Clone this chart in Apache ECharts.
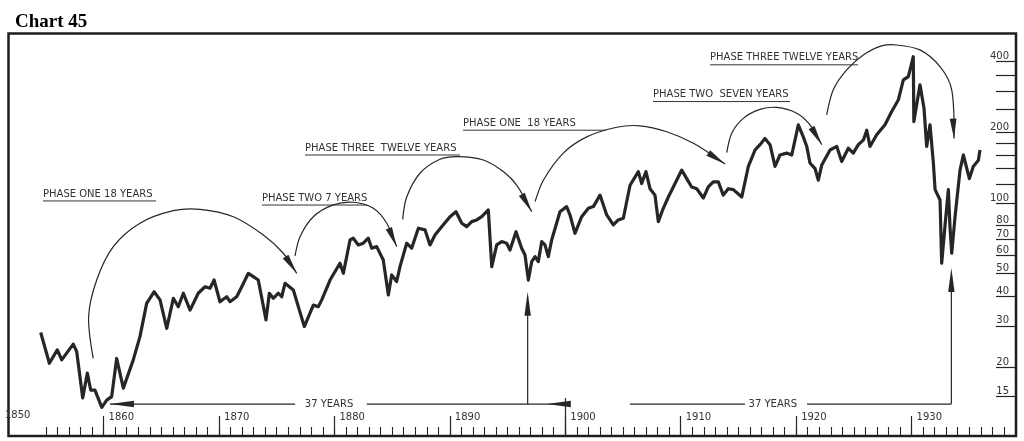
<!DOCTYPE html>
<html><head><meta charset="utf-8">
<script src="https://cdn.jsdelivr.net/npm/echarts@6/dist/echarts.min.js"></script>
<style>html,body{margin:0;padding:0;background:#fff}#c{width:1024px;height:441px}</style>
</head><body><div id="c"></div><script>
// ---- price series (year, index value, log scale) ----
const years = [1854.55,1855.30,1855.99,1856.37,1857.37,1857.67,1858.19,1858.59,1858.88,1859.25,1859.84,1860.27,1860.70,1861.13,1861.71,1862.57,1863.15,1863.73,1864.37,1864.89,1865.47,1866.04,1866.47,1866.91,1867.49,1868.20,1868.79,1869.22,1869.57,1870.08,1870.67,1870.95,1871.53,1871.97,1872.54,1872.97,1873.40,1874.07,1874.36,1874.70,1875.14,1875.43,1875.72,1876.44,1876.96,1877.39,1878.17,1878.60,1878.90,1879.62,1880.48,1880.77,1881.35,1881.63,1882.07,1882.50,1882.93,1883.23,1883.66,1884.23,1884.67,1884.96,1885.39,1885.68,1886.26,1886.69,1887.27,1887.85,1888.28,1888.71,1889.29,1890.01,1890.53,1891.03,1891.46,1891.89,1892.33,1892.76,1893.33,1893.63,1894.06,1894.49,1894.92,1895.21,1895.73,1896.22,1896.51,1896.80,1897.09,1897.38,1897.66,1897.96,1898.24,1898.53,1898.82,1899.54,1900.12,1900.41,1900.84,1901.42,1902.00,1902.43,1903.01,1903.59,1904.16,1904.59,1905.03,1905.61,1906.33,1906.62,1906.99,1907.34,1907.77,1908.06,1908.49,1908.93,1909.36,1910.09,1910.52,1910.95,1911.39,1911.96,1912.39,1912.82,1913.26,1913.69,1914.12,1914.56,1915.29,1915.86,1916.44,1916.87,1917.30,1917.74,1918.17,1918.60,1919.18,1919.62,1920.19,1920.62,1920.92,1921.20,1921.64,1921.92,1922.22,1922.94,1923.52,1923.95,1924.52,1924.95,1925.39,1925.82,1926.12,1926.40,1926.98,1927.70,1928.28,1928.85,1929.29,1929.72,1929.87,1930.15,1930.20,1930.73,1931.08,1931.31,1931.60,1931.89,1932.04,1932.47,1932.61,1932.92,1933.19,1933.33,1933.48,1933.77,1934.20,1934.49,1935.01,1935.35,1935.79,1935.93];
const prices = [28.1,20.8,23.7,21.5,25.1,23.3,14.8,18.9,16.0,16.0,13.5,14.5,15.0,21.8,16.3,21.5,27.0,37.4,41.9,38.7,29.3,39.3,36.2,41.3,35.0,41.3,44.0,43.4,47.0,38.0,39.9,38.0,39.9,44.0,50.2,48.6,47.0,31.8,41.3,39.3,41.3,39.9,45.5,42.6,35.0,29.8,36.8,36.2,38.7,47.0,55.4,50.2,69.6,70.8,66.3,67.4,70.8,64.2,65.2,57.2,40.6,49.4,46.3,53.6,67.4,64.2,78.1,76.8,66.3,73.1,79.3,87.4,91.8,82.0,79.3,83.3,84.7,87.4,93.4,53.6,66.3,68.5,67.4,63.1,75.5,64.2,60.1,47.0,56.3,59.1,56.3,68.5,66.3,59.1,69.6,91.8,96.5,88.9,74.3,87.4,94.9,96.5,108,88.9,80.6,84.7,86.1,119,136,121,136,115,108,83.3,94.9,106,117,138,127,117,115,105,117,123,123,108,115,114,106,143,168,177,188,177,143,160,163,160,215,191,174,148,140,125,145,168,174,150,171,163,177,185,204,174,195,215,245,274,334,345,368,419,222,318,253,174,215,148,114,103,55.4,82.0,114,79.3,61.1,87.4,138,160,127,143,152,168];

// ---- axis ticks / labels ----
const priceTicks = [15,20,30,40,50,60,70,80,100,120,140,160,180,200,250,300,350,400];
const priceLabels = [15,20,30,40,50,60,70,80,100,200,400];
const decadeTicks = [1860,1870,1880,1890,1900,1910,1920,1930];
const firstYearTick = 1855, lastYearTick = 1938;
const edgeYearLabel = '1850';

// ---- annotations (data coordinates: [year, value]) ----
const phaseTitles = ['PHASE ONE 18 YEARS','PHASE TWO 7 YEARS','PHASE THREE  TWELVE YEARS','PHASE ONE  18 YEARS','PHASE TWO  SEVEN YEARS','PHASE THREE TWELVE YEARS'];
const phaseTitleAnchors = [[1854.75,102,1864.54],[1873.72,98.0,1882.82],[1877.45,160,1890.88],[1891.14,204,1903.53],[1907.60,270,1919.47],[1912.54,387,1925.36]];
const phaseArcs = [
  [[1859.1,21.8],[1858.7,32.8],[1859.4,47.0],[1860.84,65.2],[1863.15,82.0],[1866.04,92.7],[1868.35,94.0],[1871.24,87.4],[1873.84,73.1],[1875.57,61.1],[1876.73,50.2]],
  [[1876.58,59.5],[1877.02,71.9],[1878.17,87.4],[1879.90,98.1],[1881.63,100.7],[1883.37,94.9],[1884.53,82.0],[1885.39,65.2]],
  [[1885.91,85.2],[1886.26,106],[1887.41,133.8],[1889.15,153.5],[1890.71,157.4],[1892.90,152.4],[1894.63,136],[1895.79,119],[1897.09,91.8]],
  [[1897.38,101.3],[1898.10,125],[1899.83,163],[1901.86,191],[1904.46,210],[1906.48,213],[1908.79,201],[1911.10,179.5],[1913.84,146.6]],
  [[1913.99,163.7],[1914.42,198],[1915.42,229],[1916.87,250],[1918.32,255],[1920.05,241],[1921.20,215],[1922.22,177]],
  [[1922.65,237],[1923.22,303],[1924.38,368],[1925.82,426],[1927.41,466],[1928.71,470],[1930.73,448],[1932.47,380],[1933.48,303],[1933.68,188]]
];
const cycleText = '37 YEARS';
const cycleBaseValue = 13.95;
const cycleSegments = [[1860.55,1876.6],[1882.8,1899.54],[1905.6,1915.57],[1920.95,1933.45]];
const cycleTextYears = [1879.53,1917.98];
const cycleLeftArrowYears = [1860.55,1898.4];
const cycleUpArrows = [[1896.74,41.9],[1933.45,52.9]];

const ink = '#262626';
const font = '"DejaVu Sans", sans-serif';

const yearTicks = [];
for (let y = firstYearTick; y <= lastYearTick; y++) yearTicks.push(y);

function renderAnnotations(params, api) {
  const children = [];
  const P = (x, v) => api.coord([x, v]);
  function head(tip, from, len, half) {
    const dx = tip[0]-from[0], dy = tip[1]-from[1];
    const d = Math.hypot(dx, dy) || 1;
    const ux = dx/d, uy = dy/d;
    const bx = tip[0]-ux*len, by = tip[1]-uy*len;
    return {type:'polygon', shape:{points:[tip,[bx-uy*half,by+ux*half],[bx+uy*half,by-ux*half]]}, style:{fill:ink}};
  }
  phaseArcs.forEach(arc => {
    const pts = arc.map(p => P(p[0], p[1]));
    children.push({type:'polyline', shape:{points:pts, smooth:0.3}, style:{stroke:ink, lineWidth:1.2, fill:null}});
    children.push(head(pts[pts.length-1], pts[pts.length-2], 20, 3.4));
  });
  phaseTitles.forEach((t, i) => {
    const a = phaseTitleAnchors[i];
    const p0 = P(a[0], a[1]), p1 = P(a[2], a[1]);
    children.push({type:'text', x:p0[0], y:p0[1]-2, style:{text:t, fill:'#333', font:'10px ' + font, align:'left', verticalAlign:'bottom'}});
    children.push({type:'line', shape:{x1:p0[0], y1:p0[1], x2:p1[0], y2:p1[1]}, style:{stroke:'#333', lineWidth:1}});
  });
  cycleSegments.forEach(s => {
    const p0 = P(s[0], cycleBaseValue), p1 = P(s[1], cycleBaseValue);
    children.push({type:'line', shape:{x1:p0[0], y1:p0[1], x2:p1[0], y2:p1[1]}, style:{stroke:ink, lineWidth:1.2}});
  });
  cycleTextYears.forEach(x => {
    const p = P(x, cycleBaseValue);
    children.push({type:'text', x:p[0], y:p[1], style:{text:cycleText, fill:'#333', font:'10px ' + font, align:'center', verticalAlign:'middle'}});
  });
  cycleLeftArrowYears.forEach(x => {
    const p = P(x, cycleBaseValue);
    children.push(head(p, [p[0]+10, p[1]], 24, 3.2));
  });
  cycleUpArrows.forEach(a => {
    const b = P(a[0], cycleBaseValue), t = P(a[0], a[1]);
    children.push({type:'line', shape:{x1:b[0], y1:b[1], x2:t[0], y2:t[1]+10}, style:{stroke:ink, lineWidth:1.2}});
    children.push(head(t, [t[0], t[1]+10], 24, 3.2));
  });
  return {type:'group', children};
}

const chart = echarts.init(document.getElementById('c'), null, {renderer:'canvas'});
const xMin = 1851.76, xMax = 1939.05;
const baseX = {type:'value', min:xMin, max:xMax, position:'bottom', axisLine:{show:false}, splitLine:{show:false}};
chart.setOption({
  animation:false,
  backgroundColor:'#fff',
  title:{text:'Chart 45', left:10, top:8, textStyle:{fontFamily:'"Liberation Serif", "Times New Roman", serif', fontWeight:'bold', fontSize:19, color:'#000'}},
  grid:{left:8.5, right:8, top:33.5, bottom:5, show:true, borderColor:'#1e1e1e', borderWidth:2.5, backgroundColor:'transparent', outerBoundsMode:'none'},
  xAxis:[
    Object.assign({}, baseX, {
      axisTick:{show:true, inside:true, length:20, customValues:decadeTicks, lineStyle:{color:ink, width:1.2}},
      axisLabel:{show:true, inside:true, customValues:decadeTicks, align:'left', margin:14, padding:[0,0,0,5], color:'#333', fontFamily:font, fontSize:10, formatter:v => String(v)}
    }),
    Object.assign({}, baseX, {
      axisTick:{show:true, inside:true, length:9, customValues:yearTicks, lineStyle:{color:ink, width:1.1}},
      axisLabel:{show:false}
    }),
    Object.assign({}, baseX, {
      axisTick:{show:true, inside:true, length:38, customValues:[1900], lineStyle:{color:ink, width:1.2}},
      axisLabel:{show:false}
    })
  ],
  yAxis:{type:'log', logBase:10, min:10.2, max:526, position:'right', axisLine:{show:false}, splitLine:{show:false},
    axisTick:{show:true, inside:true, length:20, customValues:priceTicks, lineStyle:{color:ink, width:1.2}},
    axisLabel:{show:true, inside:true, customValues:priceLabels, margin:7, verticalAlign:'bottom', color:'#333', fontFamily:font, fontSize:10, formatter:v => String(v)}
  },
  graphic:[{type:'text', left:5, top:410, style:{text:edgeYearLabel, fill:'#333', font:'10px ' + font}}],
  series:[
    {type:'line', data:years.map((y, i) => [y, prices[i]]), showSymbol:false, symbol:'none',
     lineStyle:{color:ink, width:3.2, join:'round'}, z:3},
    {type:'custom', data:[[1900, 100]], renderItem:renderAnnotations, silent:true, clip:false, z:4}
  ]
});
</script></body></html>
